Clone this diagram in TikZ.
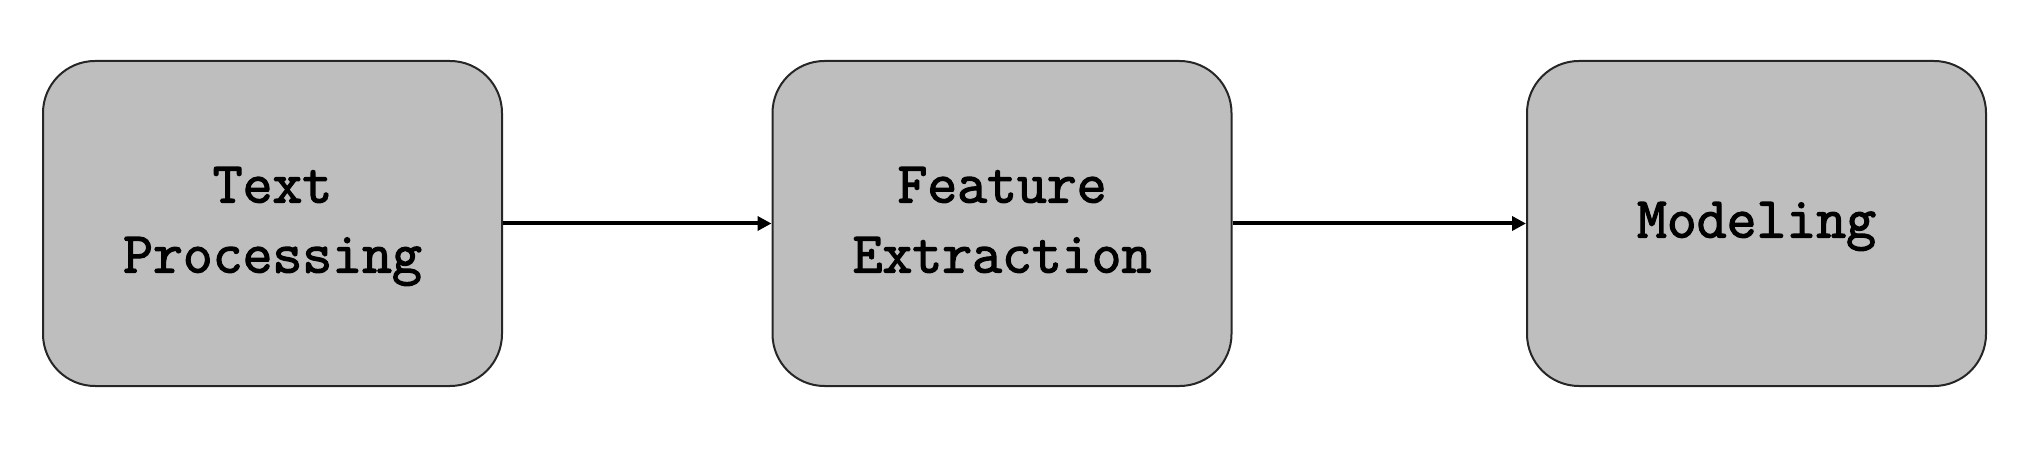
\documentclass[tikz,border=0pt]{standalone}
\usepackage{fontspec}
\newfontfamily\typewfont{Latin Modern Mono}[FakeBold=2.2]
\usetikzlibrary{arrows.meta}
\definecolor{boxgray}{RGB}{190,190,190}
\newcommand\boxlabel[1]{\raisebox{-2pt}{\begin{tabular}{@{}c@{}}#1\end{tabular}}}
\tikzset{
  stagebox/.style={draw=black!85, line width=1pt, fill=boxgray, rounded corners=26pt,
    minimum width=229.5pt, minimum height=162.5pt, inner sep=0pt, align=center,
    font=\typewfont\fontsize{29}{35}\selectfont},
  flow/.style={line width=2pt, -{Triangle[length=7pt,width=7pt]}}
}
\begin{document}
\begin{tikzpicture}[x=0.5pt,y=-0.5pt]
\useasboundingbox (0,0) rectangle (2040,454);
\node[stagebox] (tp) at (272.5,223.5) {\boxlabel{Text\\Processing}};
\node[stagebox] (fe) at (1002,223.5) {\boxlabel{Feature\\Extraction}};
\node[stagebox] (md) at (1756.5,223.5) {\boxlabel{Modeling}};
\draw[flow] (tp.east) -- (fe.west);
\draw[flow] (fe.east) -- (md.west);
\end{tikzpicture}
\end{document}
